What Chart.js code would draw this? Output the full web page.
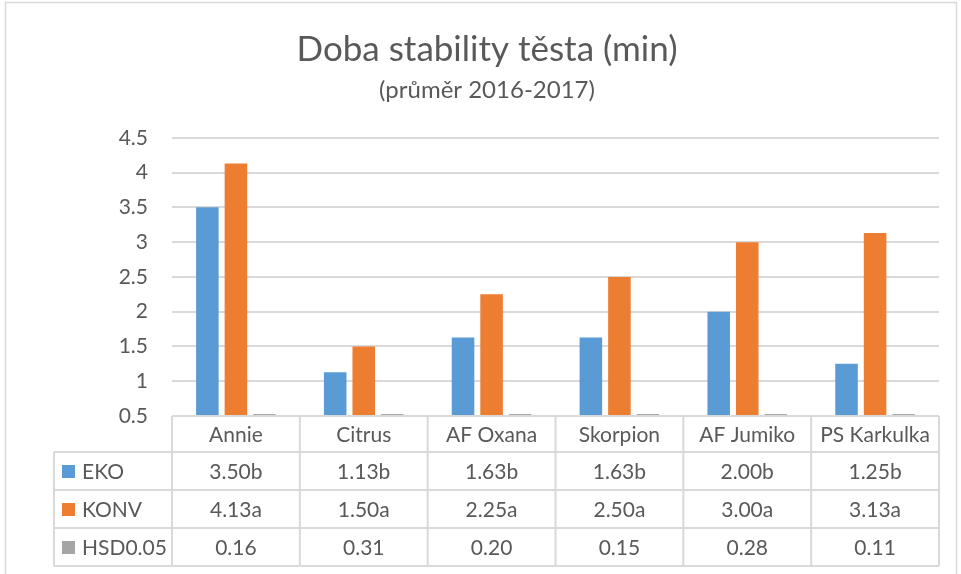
<!DOCTYPE html>
<html>
<head>
<meta charset="utf-8">
<script src="https://cdn.jsdelivr.net/npm/chart.js@4"></script>
<style>
  body { margin: 0; background: #fff; }
  #wrap { width: 961px; height: 574px; }
</style>
</head>
<body>
<div id="wrap"><canvas id="stabChart" width="961" height="574"></canvas></div>
<script>
// data
const varieties = ["Annie", "Citrus", "AF Oxana", "Skorpion", "AF Jumiko", "PS Karkulka"];
const ekoValues = [3.50, 1.13, 1.63, 1.63, 2.00, 1.25];
const ekoLetters = ["b", "b", "b", "b", "b", "b"];
const konvValues = [4.13, 1.50, 2.25, 2.50, 3.00, 3.13];
const konvLetters = ["a", "a", "a", "a", "a", "a"];
const hsdValues = [0.16, 0.31, 0.20, 0.15, 0.28, 0.11];
const seriesNames = ["EKO", "KONV", "HSD0.05"];
const yTicks = [0.5, 1, 1.5, 2, 2.5, 3, 3.5, 4, 4.5];

const colors = ['#5b9bd5', '#ed7d31', '#a5a5a5'];
const textColor = '#595959';
const lineColor = '#d9d9d9';
const fontFamily = 'Lato, "Open Sans", sans-serif';

// outer frame of the chart object
const framePlugin = {
    id: 'frame',
    afterDraw(chart) {
        const ctx = chart.ctx;
        ctx.save();
        ctx.strokeStyle = lineColor;
        ctx.lineWidth = 1.5;
        ctx.strokeRect(5.5, 2.5, 951, 620);
        ctx.restore();
    }
};

// HSD bars are below the axis minimum, Excel shows them as a flat dash on the axis
const hsdDashPlugin = {
    id: 'hsdDash',
    afterDatasetsDraw(chart) {
        const ctx = chart.ctx;
        const meta = chart.getDatasetMeta(2);
        const y = chart.chartArea.bottom - 1;
        ctx.save();
        ctx.strokeStyle = '#8c8c8c';
        ctx.lineWidth = 1.5;
        meta.data.forEach(function(bar) {
            ctx.beginPath();
            ctx.moveTo(bar.x - bar.width / 2, y);
            ctx.lineTo(bar.x + bar.width / 2, y);
            ctx.stroke();
        });
        ctx.restore();
    }
};

// data table under the plot, aligned with the category scale
const dataTablePlugin = {
    id: 'dataTable',
    afterDraw(chart) {
        const ctx = chart.ctx;
        const area = chart.chartArea;
        const xScale = chart.scales.x;
        const n = varieties.length;
        const cw = (area.right - area.left) / n;
        const top = area.bottom;
        const headH = 36;
        const rowH = 38;
        const legendLeft = 54;
        const rows = [
            ekoValues.map((v, i) => v.toFixed(2) + ekoLetters[i]),
            konvValues.map((v, i) => v.toFixed(2) + konvLetters[i]),
            hsdValues.map(v => v.toFixed(2))
        ];
        const bottom = top + headH + rowH * rows.length;

        ctx.save();
        ctx.strokeStyle = lineColor;
        ctx.lineWidth = 2;
        ctx.beginPath();
        // header row
        ctx.moveTo(area.left, top); ctx.lineTo(area.right, top);
        // row lines
        for (let r = 0; r <= rows.length; r++) {
            const y = top + headH + r * rowH;
            ctx.moveTo(legendLeft, y); ctx.lineTo(area.right, y);
        }
        // vertical lines
        ctx.moveTo(legendLeft, top + headH); ctx.lineTo(legendLeft, bottom);
        for (let i = 0; i <= n; i++) {
            const x = area.left + i * cw;
            ctx.moveTo(x, top); ctx.lineTo(x, bottom);
        }
        ctx.stroke();

        ctx.fillStyle = textColor;
        ctx.font = '21px ' + fontFamily;
        ctx.textAlign = 'center';
        ctx.textBaseline = 'middle';
        varieties.forEach(function(name, i) {
            ctx.fillText(name, xScale.getPixelForValue(i), top + headH / 2 + 1);
        });
        rows.forEach(function(row, r) {
            const y = top + headH + r * rowH + rowH / 2 + 1;
            row.forEach(function(txt, i) {
                ctx.fillText(txt, xScale.getPixelForValue(i), y);
            });
        });

        // legend keys in the first column
        ctx.textAlign = 'left';
        seriesNames.forEach(function(name, r) {
            const y = top + headH + r * rowH + rowH / 2;
            ctx.fillStyle = colors[r];
            ctx.fillRect(62, y - 6, 13, 13);
            ctx.fillStyle = textColor;
            ctx.fillText(name, 82, y + 1);
        });
        ctx.restore();
    }
};

const ctx = document.getElementById('stabChart').getContext('2d');
const stabChart = new Chart(ctx, {
    type: 'bar',
    data: {
        labels: varieties,
        datasets: [
            { label: seriesNames[0], data: ekoValues, backgroundColor: colors[0] },
            { label: seriesNames[1], data: konvValues, backgroundColor: colors[1] },
            { label: seriesNames[2], data: hsdValues, backgroundColor: colors[2] }
        ]
    },
    options: {
        responsive: false,
        animation: false,
        categoryPercentage: 0.67,
        barPercentage: 0.79,
        layout: {
            padding: { left: 13, right: 0, top: 0, bottom: 158 }
        },
        plugins: {
            legend: { display: false },
            tooltip: { enabled: false },
            title: {
                display: true,
                text: 'Doba stability těsta (min)',
                color: textColor,
                font: { family: fontFamily, size: 35, weight: 'normal' },
                padding: { top: 29, bottom: 5 }
            },
            subtitle: {
                display: true,
                text: '(průměr 2016-2017)',
                color: textColor,
                font: { family: fontFamily, size: 24, weight: 'normal' },
                padding: { top: 0, bottom: 33 }
            }
        },
        scales: {
            x: {
                display: false
            },
            y: {
                min: 0.5,
                max: 4.5,
                afterBuildTicks(scale) {
                    scale.ticks = yTicks.map(v => ({ value: v }));
                },
                afterFit(scale) {
                    scale.width = 159;
                },
                grid: { color: lineColor, lineWidth: 2, drawTicks: false },
                border: { display: false },
                ticks: {
                    color: textColor,
                    padding: 24,
                    font: { family: fontFamily, size: 21 },
                    callback: function(value) {
                        return String(value);
                    }
                }
            },
            // empty right axis, only keeps the plot off the right edge
            yRight: {
                position: 'right',
                min: 0.5,
                max: 4.5,
                afterFit(scale) {
                    scale.width = 22;
                },
                grid: { display: false },
                border: { display: false },
                ticks: { display: false }
            }
        }
    },
    plugins: [hsdDashPlugin, dataTablePlugin, framePlugin]
});
</script>
</body>
</html>
